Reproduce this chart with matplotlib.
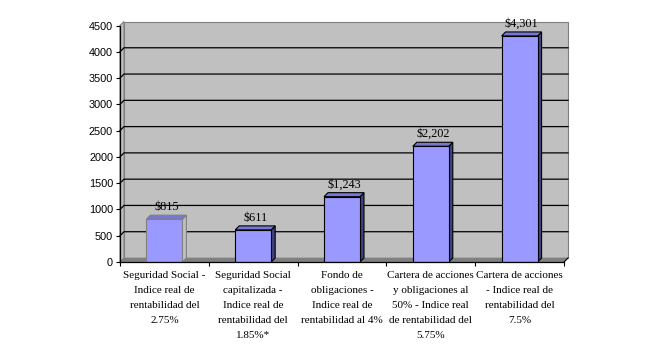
import matplotlib
matplotlib.use("Agg")
import matplotlib.pyplot as plt
from matplotlib.patches import Polygon
from matplotlib.lines import Line2D
from matplotlib.transforms import IdentityTransform

# ---- datos ----
categorias = [
    "Seguridad Social -\nIndice real de\nrentabilidad del\n2.75%",
    "Seguridad Social\ncapitalizada -\nIndice real de\nrentabilidad del\n1.85%*",
    "Fondo de\nobligaciones -\nIndice real de\nrentabilidad al 4%",
    "Cartera de acciones\ny obligaciones al\n50% - Indice real\nde rentabilidad del\n5.75%",
    "Cartera de acciones\n- Indice real de\nrentabilidad del\n7.5%",
]
valores = [815, 611, 1243, 2202, 4301]
etiquetas = ["$815", "$611", "$1,243", "$2,202", "$4,301"]
yticks = [0, 500, 1000, 1500, 2000, 2500, 3000, 3500, 4000, 4500]

# ---- estilo ----
W, H = 655, 363
DX, DY = 4, 4          # profundidad 3D en pixeles
ancho = 0.405
azul = "#9999FF"
azul_top = "#7777D6"
azul_lado = "#41417F"
pared = "#C0C0C0"
suelo = "#808080"

fig = plt.figure(figsize=(W / 100, H / 100), dpi=100)
ax = fig.add_axes([120 / W, (H - 262) / H, 444 / W, 236.5 / H])
ax.set_xlim(0, 5)
ax.set_ylim(0, 4500)
ax.set_facecolor("none")
ident = IdentityTransform()


def disp(x, y, back=False):
    px, py = ax.transData.transform((x, y))
    if back:
        return (px + DX, py + DY)
    return (px, py)


def poly(pts, fc, ec, lw=0.8, z=2):
    ax.add_patch(Polygon(pts, closed=True, facecolor=fc, edgecolor=ec,
                         linewidth=lw, transform=ident, zorder=z, clip_on=False))


# pared del fondo
poly([disp(0, 0, True), disp(5, 0, True), disp(5, 4500, True), disp(0, 4500, True)],
     pared, "#808080", z=0)
# pared izquierda
poly([disp(0, 0), disp(0, 0, True), disp(0, 4500, True), disp(0, 4500)],
     pared, "#808080", z=0)
# suelo
poly([disp(0, 0), disp(5, 0), disp(5, 0, True), disp(0, 0, True)],
     suelo, suelo, lw=0.5, z=0.5)
ax.add_line(Line2D([disp(5, 0)[0], disp(5, 0, True)[0]],
                   [disp(5, 0)[1], disp(5, 0, True)[1]],
                   color="black", lw=0.8, transform=ident, zorder=0.6, clip_on=False))

# lineas de division
for v in yticks[1:-1]:
    a, b, c = disp(0, v), disp(0, v, True), disp(5, v, True)
    ax.add_line(Line2D([a[0], b[0], c[0]], [a[1], b[1], c[1]], color="black",
                       lw=0.9, transform=ident, zorder=0.4, clip_on=False))

# barras
xs = [i + 0.5 for i in range(len(valores))]
for i, (x, v) in enumerate(zip(xs, valores)):
    x0, x1 = x - ancho / 2, x + ancho / 2
    borde = "#808080" if i == 0 else "black"
    lado = pared if i == 0 else azul_lado
    ax.bar(x, v, width=ancho, color=azul, edgecolor=borde, linewidth=0.8, zorder=3)
    poly([disp(x1, 0), disp(x1, 0, True), disp(x1, v, True), disp(x1, v)], lado, borde, z=2.5)
    poly([disp(x0, v), disp(x1, v), disp(x1, v, True), disp(x0, v, True)], azul_top, borde, z=2.5)
    ax.annotate(etiquetas[i], (x, v), xytext=(1.5, 4.5), textcoords="offset points",
                ha="center", va="bottom", fontsize=8.8, family="Liberation Serif")

# ejes
for s in ["top", "right"]:
    ax.spines[s].set_visible(False)
ax.spines["left"].set_linewidth(0.9)
ax.spines["bottom"].set_linewidth(0.9)
ax.spines["left"].set_zorder(4)
ax.spines["bottom"].set_zorder(4)
ax.set_yticks(yticks)
ax.set_yticklabels([str(t) for t in yticks], fontsize=7.8, family="Liberation Sans")
ax.tick_params(axis="y", direction="out", length=3, width=0.8, pad=2)
ax.set_xticks(range(6))
ax.set_xticklabels([])
ax.tick_params(axis="x", direction="out", length=3, width=0.8)
for x, c in zip(xs, categorias):
    ax.text(x, -170, c, ha="center", va="top", fontsize=8, linespacing=1.85,
            family="Liberation Serif", clip_on=False)

fig.savefig("out.png", dpi=100, facecolor="white")
